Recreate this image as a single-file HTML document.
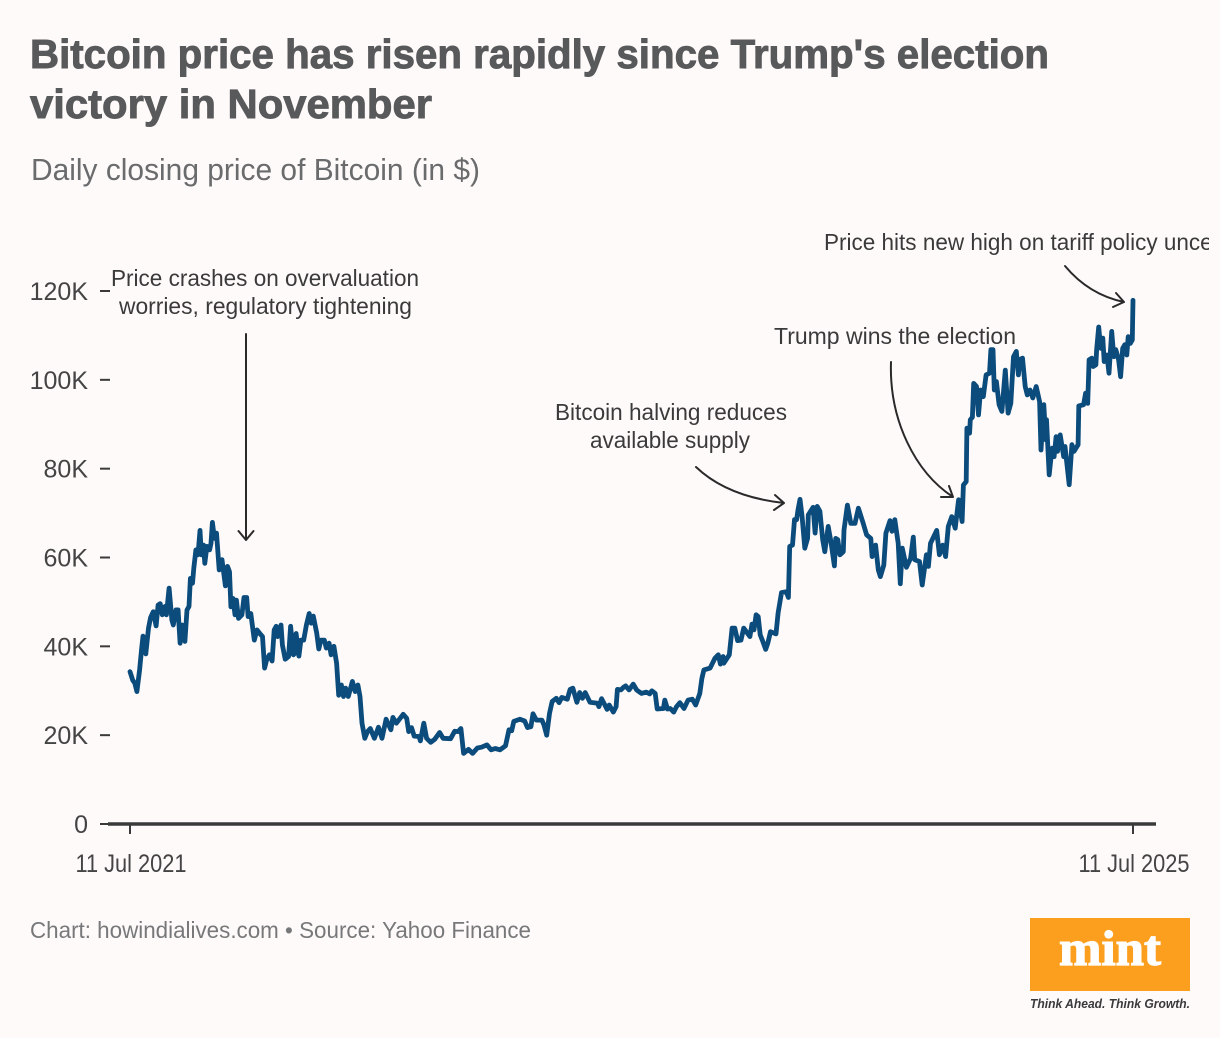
<!DOCTYPE html>
<html lang="en">
<head>
<meta charset="utf-8">
<title>Bitcoin price chart</title>
<style>
  html, body { margin: 0; padding: 0; background: #fffafa; }
  body { width: 1220px; height: 1038px; overflow: hidden; }
  svg { display: block; font-family: "Liberation Sans", sans-serif; }
  .note { font-size: 23px; fill: #3a3a3a; }
  .tick-label { font-size: 25px; fill: #444; }
  .arrow { fill: none; stroke: #2a2a2a; stroke-width: 2; stroke-linecap: round; stroke-linejoin: round; }
</style>
</head>
<body>
<svg id="chart" xmlns="http://www.w3.org/2000/svg" width="1220" height="1038" viewBox="0 0 1220 1038">
  <defs>
    <clipPath id="page-clip"><rect x="0" y="0" width="1209" height="1038"></rect></clipPath>
  </defs>
  <rect x="0" y="0" width="1220" height="1038" fill="#fffafa"></rect>

  <text x="30" y="68" font-size="41" font-weight="700" fill="#58595b" stroke="#58595b" stroke-width="0.9" textLength="1019" lengthAdjust="spacingAndGlyphs">Bitcoin price has risen rapidly since Trump's election</text>
  <text x="30" y="118" font-size="41" font-weight="700" fill="#58595b" stroke="#58595b" stroke-width="0.9" textLength="402" lengthAdjust="spacingAndGlyphs">victory in November</text>
  <text x="31" y="180" font-size="31" fill="#6a6b6d" textLength="449" lengthAdjust="spacingAndGlyphs">Daily closing price of Bitcoin (in $)</text>

  <g id="axes"></g>
  <path id="price-line" fill="none" stroke="#0b4c7c" stroke-width="4.8" stroke-linejoin="round" stroke-linecap="round"></path>

  <g>
    <text class="note" x="111" y="286" textLength="308" lengthAdjust="spacingAndGlyphs">Price crashes on overvaluation</text>
    <text class="note" x="119" y="314" textLength="293" lengthAdjust="spacingAndGlyphs">worries, regulatory tightening</text>
    <path class="arrow" d="M246,334 L246,540 M238.5,531 L246,540 L253.5,531"></path>
  </g>
  <g>
    <text class="note" x="555" y="420" textLength="232" lengthAdjust="spacingAndGlyphs">Bitcoin halving reduces</text>
    <text class="note" x="590" y="448" textLength="160" lengthAdjust="spacingAndGlyphs">available supply</text>
    <path class="arrow" d="M696,467 C718,488 748,499 784,503 M775,495 L784,503 L774,510"></path>
  </g>
  <g>
    <text class="note" x="774" y="344" textLength="242" lengthAdjust="spacingAndGlyphs">Trump wins the election</text>
    <path class="arrow" d="M891,362 C889,420 915,472 953,497 M941,497 L953,497 L949,486"></path>
  </g>
  <g clip-path="url(#page-clip)">
    <text class="note" x="824" y="250" textLength="450" lengthAdjust="spacingAndGlyphs">Price hits new high on tariff policy uncertainty</text>
  </g>
  <path class="arrow" d="M1065,266 C1080,284 1100,297 1124,302 M1116,293 L1124,302 L1113,307"></path>

  <text x="30" y="938" font-size="23" fill="#77787a" textLength="501" lengthAdjust="spacingAndGlyphs">Chart: howindialives.com • Source: Yahoo Finance</text>

  <g>
    <rect x="1030" y="918" width="160" height="73" fill="#fd9f1e"></rect>
    <text x="1059" y="965" font-family="'Liberation Serif', serif" font-size="50" font-weight="700" fill="#ffffff" stroke="#ffffff" stroke-width="1.2" textLength="102" lengthAdjust="spacingAndGlyphs">mint</text>
    <text x="1030" y="1008" font-size="13" font-style="italic" font-weight="700" fill="#3a3a3c" textLength="160" lengthAdjust="spacingAndGlyphs">Think Ahead. Think Growth.</text>
  </g>
</svg>
<script>
const priceDays = [0,4,7,10,14,17,19,23,27,30,34,38,41,44,47,51,53,57,61,63,67,70,73,76,80,83,86,88,91,93,96,99,102,104,107,109,112,116,118,120,123,126,130,134,139,142,145,147,150,153,155,158,163,166,170,172,176,181,185,189,193,196,199,203,207,210,213,215,220,222,226,231,234,238,240,242,246,249,253,257,261,264,267,272,275,278,283,286,290,293,297,301,304,308,311,314,318,324,328,332,335,338,342,346,350,356,362,
367,373,380,383,388,398,403,406,410,414,421,423,428,432,438,444,451,456,467,473,478,482,486,493,499,506,512,520,526,532,539,547,552,556,559,568,575,579,584,587,592,600,603,607,611,615,621,625,629,637,641,645,651,655,659,663,670,681,683,687,695,698,704,708,710,715,719,722,727,733,738,745,752,757,760,765,768,777,779,783,787,792,796,801,807,813,819,824,830,
833,836,845,852,857,860,864,865,873,877,881,885,890,894,903,906,909,912,915,918,921,926,929,933,941,944,949,956,959,961,965,968,971,973,976,979,983,987,988,995,998,1001,1005,1009,1012,1017,1021,1026,1028,1031,1034,1039,1040,1045,1050,1056,1061,1068,1073,1079,1081,1086,1090,1093,1098,1101,1107,1110,1114,1119,1122,1125,1127,1131,1137,1141,1143,1150,1154,1160,1163,1166,1175,1179,1184,1188,1192,1197,1202,1207,1212,
1214,1218,1219,1223,1224,1227,1229,1233,1236,1239,1243,1247,1252,1254,1257,1259,1262,1266,1270,1275,1279,1283,1287,1291,1294,1296,1300,1304,1307,1311,1315,1320,1325,1327,1331,1334,1335,1339,1343,1346,1349,1351,1355,1360,1362,1368,1372,1375,1381,1382,1389,1392,1395,1397,1401,1403,1407,1408,1411,1414,1417,1419,1423,1426,1430,1433,1436,1440,1443,1446,1449,1452,1454,1457,1460,1461];
const priceValues = [34.3,32.4,31.7,29.8,34.7,39.6,42.3,38.3,44.1,46.5,47.8,44.6,49.3,49.6,47.1,49.0,47.1,53.1,45.9,44.8,48.2,48.2,40.7,44.8,41.1,48.2,49.0,55.3,54.2,57.6,61.7,60.6,66.1,60.6,62.8,58.7,62.5,61.7,63.2,67.9,64.3,65.5,57.2,59.5,53.6,58.0,56.8,48.9,50.8,47.1,50.4,46.3,47.1,51.0,51.0,46.7,47.4,41.4,43.7,42.9,42.2,35.1,36.9,38.1,36.7,43.7,44.5,42.2,44.8,40.3,37.1,37.7,44.5,38.1,38.4,42.9,37.8,41.4,41.4,44.8,47.4,45.2,46.8,43.0,39.4,41.4,41.4,39.6,40.7,38.1,40.0,36.2,29.0,31.3,28.7,30.6,28.7,32.1,29.8,31.3,28.7,22.7,19.3,20.8,21.5,19.3,21.8,
19.3,23.6,21.2,24.0,22.7,24.7,23.8,20.8,21.7,19.8,19.7,18.7,22.7,19.3,18.4,19.1,20.6,19.3,19.2,20.9,20.8,21.5,15.9,16.8,15.9,17.1,17.3,17.8,16.7,17.0,16.7,17.6,21.2,21.0,23.1,23.6,23.2,21.7,21.9,24.8,23.4,23.4,22.3,20.0,24.9,27.6,28.3,27.3,28.5,28.1,30.3,30.6,27.4,29.6,28.3,29.6,27.4,27.2,26.4,28.2,25.8,26.8,25.2,26.4,30.3,30.2,30.8,31.1,30.2,31.5,30.2,29.4,29.7,29.3,30.0,29.4,25.9,26.0,27.9,25.9,26.0,25.2,26.4,27.3,26.0,27.9,28.1,26.8,29.4,
32.8,34.7,35.1,37.3,38.1,36.0,37.7,36.2,38.1,44.1,44.1,41.3,41.4,44.1,42.2,45.0,43.7,47.1,46.7,42.6,41.4,39.3,40.7,43.3,42.8,47.5,52.1,52.3,51.0,62.5,62.8,68.5,68.5,70.7,73.1,69.2,62.1,64.3,69.6,71.3,65.5,71.5,70.4,64.0,61.3,67.0,63.6,58.1,64.3,64.0,60.6,61.3,66.2,71.8,67.7,67.7,71.1,67.7,65.1,64.3,60.2,62.8,57.2,55.7,58.3,65.5,68.3,65.9,68.5,63.2,54.1,62.1,60.6,57.8,59.8,64.6,59.5,59.1,53.8,60.6,58.0,63.2,66.1,60.6,62.8,60.2,67.0,69.2,66.6,73.0,68.1,
76.3,77.1,89.1,88.0,91.0,91.6,99.2,98.5,92.1,97.7,96.2,101.1,101.5,106.8,106.8,97.7,99.6,94.4,92.9,102.2,92.5,94.7,105.2,106.4,101.1,104.5,104.9,98.5,96.6,97.7,95.9,98.5,95.1,84.2,94.4,86.5,91.0,78.6,84.6,82.7,87.2,83.9,87.6,82.7,85.0,76.4,85.4,83.9,85.4,94.1,94.4,97.0,94.7,104.5,104.9,103.0,103.4,106.7,111.9,107.1,109.4,104.1,105.6,101.5,110.9,105.2,106.8,104.5,100.7,107.1,107.9,105.6,109.7,108.2,109.0,117.9];
const yTickValues = [0,20,40,60,80,100,120];
const yTickLabels = ["0","20K","40K","60K","80K","100K","120K"];
const xTickDays = [0,1461];
const xTickLabels = ["11 Jul 2021","11 Jul 2025"];

const SVG_NS = "http://www.w3.org/2000/svg";
function xScale(day) { return 130 + day * (1003 / 1461); }
function yScale(k) { return 824 - k * (533 / 120); }

const axes = document.getElementById("axes");

yTickValues.forEach(function (v, i) {
  const tick = document.createElementNS(SVG_NS, "line");
  
  
  tick.setAttribute("x1", 100);
  tick.setAttribute("x2", 110);
  tick.setAttribute("y1", yScale(v));
  tick.setAttribute("y2", yScale(v));
  tick.setAttribute("stroke", "#3a3a3a");
  tick.setAttribute("stroke-width", 2);
  axes.appendChild(tick);

  const label = document.createElementNS(SVG_NS, "text");
  
  
  label.setAttribute("class", "tick-label");
  label.setAttribute("x", 88);
  label.setAttribute("y", yScale(v) + 9);
  label.setAttribute("text-anchor", "end");
  label.textContent = yTickLabels[i];
  axes.appendChild(label);
});

const baseline = document.createElementNS(SVG_NS, "line");


baseline.setAttribute("x1", 108);
baseline.setAttribute("x2", 1156);
baseline.setAttribute("y1", yScale(0));
baseline.setAttribute("y2", yScale(0));
baseline.setAttribute("stroke", "#3a3a3a");
baseline.setAttribute("stroke-width", 3.5);
axes.appendChild(baseline);

xTickDays.forEach(function (d, i) {
  const tick = document.createElementNS(SVG_NS, "line");
  
  
  tick.setAttribute("x1", xScale(d));
  tick.setAttribute("x2", xScale(d));
  tick.setAttribute("y1", 824);
  tick.setAttribute("y2", 834);
  tick.setAttribute("stroke", "#3a3a3a");
  tick.setAttribute("stroke-width", 2);
  axes.appendChild(tick);

  const label = document.createElementNS(SVG_NS, "text");
  
  
  label.setAttribute("class", "tick-label");
  label.setAttribute("x", xScale(d) + 1);
  label.setAttribute("y", 872);
  label.setAttribute("text-anchor", "middle");
  label.setAttribute("textLength", 111);
  label.setAttribute("lengthAdjust", "spacingAndGlyphs");
  label.textContent = xTickLabels[i];
  axes.appendChild(label);
});

let pathData = "";
priceDays.forEach(function (d, i) {
  pathData += (i === 0 ? "M" : "L") + xScale(d).toFixed(1) + "," + yScale(priceValues[i]).toFixed(1);
});
document.getElementById("price-line").setAttribute("d", pathData);
</script>
</body>
</html>
